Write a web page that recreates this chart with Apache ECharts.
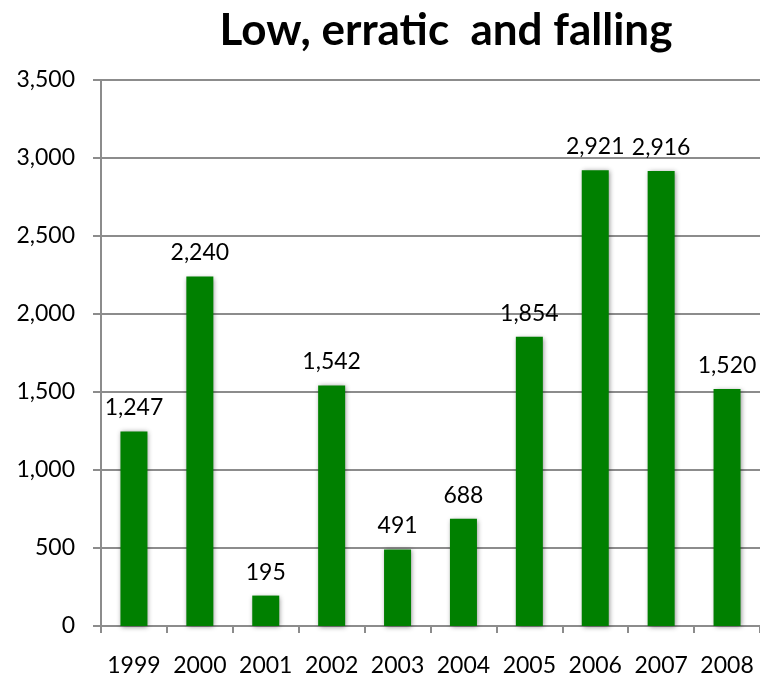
<!DOCTYPE html>
<html>
<head>
<meta charset="utf-8">
<script src="https://cdn.jsdelivr.net/npm/echarts@6/dist/echarts.min.js"></script>
<style>
  html, body { margin: 0; padding: 0; background: #ffffff; }
  #chart { width: 760px; height: 680px; }
</style>
</head>
<body>
<div id="chart"></div>
<script>
// Annual values, 1999–2008
var years = ['1999', '2000', '2001', '2002', '2003', '2004', '2005', '2006', '2007', '2008'];
var values = [1247, 2240, 195, 1542, 491, 688, 1854, 2921, 2916, 1520];
var titleText = 'Low, erratic  and falling';

var fontFamily = 'Lato, "Open Sans", sans-serif';
var gray = '#8c8c8c';

var chart = echarts.init(document.getElementById('chart'));
chart.setOption({
  animation: false,
  backgroundColor: '#ffffff',
  title: {
    text: titleText,
    left: 441,
    top: 4,
    textAlign: 'center',
    textStyle: { fontFamily: fontFamily, fontWeight: 'bold', fontSize: 44, color: '#000' }
  },
  grid: { left: 101, right: 0, top: 80, bottom: 54, containLabel: false },
  xAxis: {
    type: 'category',
    data: years,
    axisLine: { lineStyle: { color: gray, width: 2 } },
    axisTick: { show: true, length: 7, lineStyle: { color: gray, width: 2 } },
    axisLabel: { interval: 0, margin: 28, fontFamily: fontFamily, fontSize: 23, color: '#000' }
  },
  yAxis: {
    type: 'value',
    min: 0,
    max: 3500,
    interval: 500,
    axisLine: { show: true, lineStyle: { color: gray, width: 2 } },
    axisTick: { show: true, length: 8, lineStyle: { color: gray, width: 2 } },
    splitLine: { show: true, lineStyle: { color: gray, width: 2 } },
    axisLabel: {
      margin: 26,
      fontFamily: fontFamily,
      fontSize: 23,
      color: '#000',
      formatter: function (v) { return v.toLocaleString('en-US'); }
    }
  },
  series: [{
    type: 'bar',
    data: values,
    barWidth: 27,
    itemStyle: {
      color: '#008000',
      shadowBlur: 5,
      shadowColor: 'rgba(0,0,0,0.45)',
      shadowOffsetX: 1,
      shadowOffsetY: 1
    },
    label: {
      show: true,
      position: 'top',
      distance: 12,
      fontFamily: fontFamily,
      fontSize: 23,
      color: '#000',
      formatter: function (p) { return p.value.toLocaleString('en-US'); }
    }
  }]
});
</script>
</body>
</html>
